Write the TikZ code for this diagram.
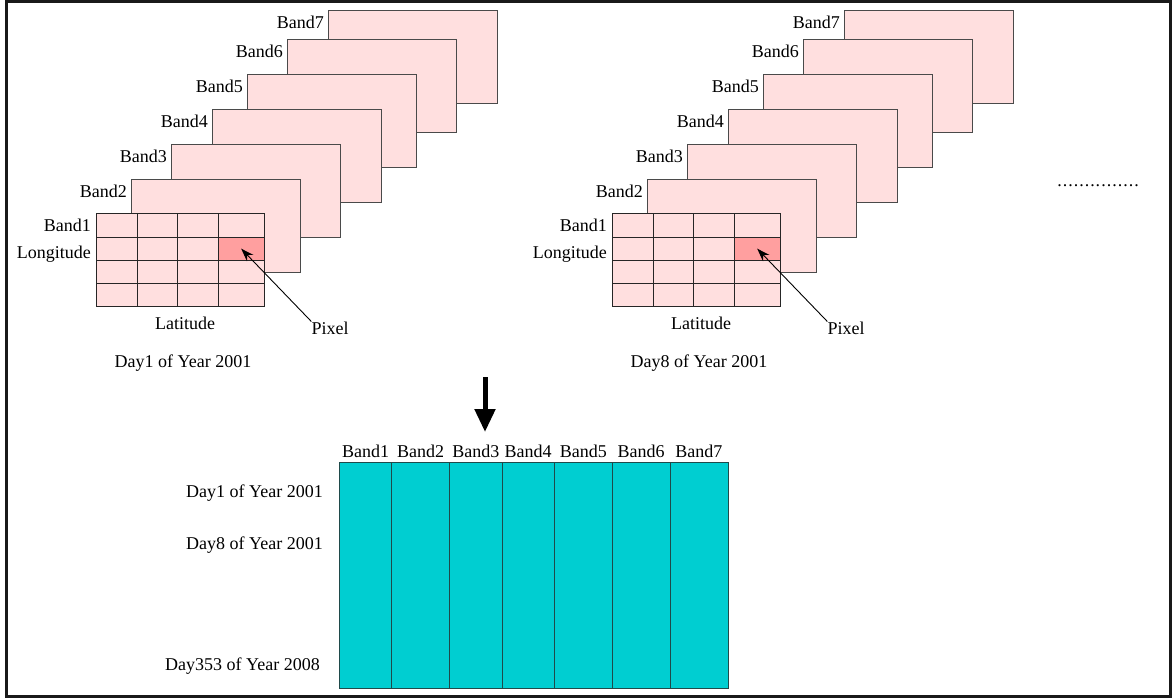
\documentclass[tikz,border=0pt]{standalone}
\usepackage{fontspec}
\setmainfont{Liberation Serif}
\usetikzlibrary{arrows.meta}
\definecolor{bandpink}{HTML}{FFDFDF}
\definecolor{pixred}{HTML}{FF9F9F}
\definecolor{tealfill}{HTML}{00CED1}
\definecolor{bordgray}{HTML}{4A4A4A}
\definecolor{tealedge}{HTML}{1F4A4A}
\begin{document}
\begin{tikzpicture}[x=1pt,y=-1pt,
  lbl/.style={font=\fontsize{18}{21}\selectfont, inner sep=0pt},
  layer/.style={fill=bandpink, draw=bordgray, line width=1.1pt, minimum width=168.5pt, minimum height=93pt, anchor=north west, inner sep=0pt},
  gridline/.style={draw=black!85, line width=0.9pt},
  pixcell/.style={fill=pixred, draw=none, minimum width=46pt, minimum height=23pt, anchor=north west, inner sep=0pt},
  tablebox/.style={fill=tealfill, draw=tealedge, line width=1.1pt, anchor=north west, inner sep=0pt, minimum width=389pt, minimum height=226pt},
  pixarrow/.style={-{Stealth[length=13pt,width=9pt]}, line width=0.9pt},
  bigarrow/.style={-{Triangle[length=23pt,width=20pt]}, line width=5pt}]
\useasboundingbox (0,0) rectangle (1172,698);
\draw[line width=2.6pt, draw=black!90] (6.5,1.3) rectangle (1170.7,696.2);

\foreach \ox/\p/\d in {0/L/1,516/R/8}{
  \foreach \i/\bx/\by in {7/328/10,6/287/39,5/247/74,4/212/109,3/171/144,2/131/179}{
    \node[layer] (\p b\i) at (\bx+\ox,\by) {};
    \node[lbl, anchor=east] (\p bl\i) at (\bx+\ox-4,\by+12) {Band\i};
  }
  \node[layer, draw=black!85, minimum width=168pt] (\p b1) at (96+\ox,213) {};
  \node[pixcell] (\p pix) at (218+\ox,237) {};
  \foreach \gx in {137,177,218}{
    \draw[gridline] (\gx+\ox,213) -- (\gx+\ox,306);
  }
  \foreach \gy in {237,260,283}{
    \draw[gridline] (96+\ox,\gy) -- (264+\ox,\gy);
  }
  \draw[gridline] (96+\ox,213) rectangle (264+\ox,306);
  \node[lbl, anchor=east] (\p bl1) at (91+\ox,225) {Band1};
  \node[lbl, anchor=east] (\p lon) at (91+\ox,254) {Longitude};
  \node[lbl] (\p lat) at (185+\ox,323) {Latitude};
  \node[lbl] (\p pixlbl) at (330+\ox,328) {Pixel};
  \node[lbl] (\p day) at (183+\ox,363) {Day\d\ of Year 2001};
  \draw[pixarrow] (\p pixlbl.north west) -- (\p pix.center);
}

\node[lbl] (dots) at (1098,186) {.\kern1pt.\kern1pt.\kern1pt.\kern1pt.\kern1pt.\kern1pt.\kern1pt.\kern1pt.\kern1pt.\kern1pt.\kern1pt.\kern1pt.\kern1pt.\kern1pt.};

\coordinate (arrtop) at (485,377);
\coordinate (arrtip) at (485,432);
\draw[bigarrow] (arrtop) -- (arrtip);

\node[tablebox] (tbl) at (339.3,462) {};
\foreach \cx in {391.7,449.7,502,554.3,612.3,670}{
  \draw[draw=tealedge, line width=1pt] (\cx,462) -- (\cx,688);
}
\foreach \n/\cx in {1/365.5,2/420.7,3/475.9,4/528.2,5/583.3,6/641.2,7/698.9}{
  \node[lbl] (col\n) at (\cx,451) {Band\n};
}
\node[lbl, anchor=east] (row1) at (323,493) {Day1 of Year 2001};
\node[lbl, anchor=east] (row2) at (323,545) {Day8 of Year 2001};
\node[lbl, anchor=east] (row3) at (320,666) {Day353 of Year 2008};
\end{tikzpicture}
\end{document}
